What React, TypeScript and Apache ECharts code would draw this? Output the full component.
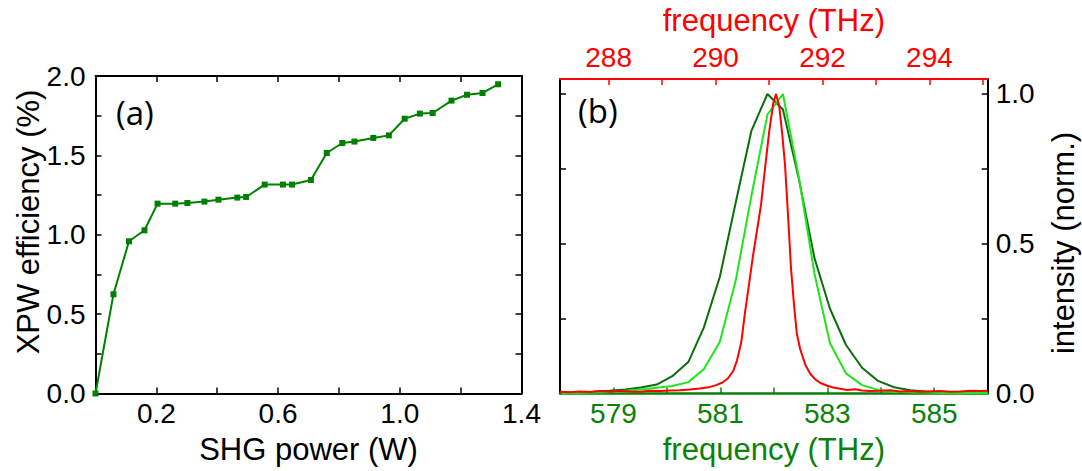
import React, { useEffect, useRef } from "react";
import * as echarts from "echarts";

// ---- Panel (a): XPW efficiency vs SHG power ----
const shgPower = [0, 0.059, 0.110, 0.161, 0.204, 0.262, 0.302, 0.358, 0.404, 0.466, 0.495, 0.556, 0.616, 0.646, 0.708, 0.760, 0.811, 0.851, 0.913, 0.964, 1.016, 1.066, 1.108, 1.170, 1.221, 1.272, 1.323];
const xpwEfficiency = [0, 0.625, 0.959, 1.028, 1.196, 1.196, 1.200, 1.209, 1.221, 1.234, 1.238, 1.316, 1.316, 1.316, 1.345, 1.515, 1.578, 1.587, 1.610, 1.626, 1.731, 1.763, 1.767, 1.845, 1.882, 1.893, 1.948];
const shgTicks = [0.2, 0.4, 0.6, 0.8, 1.0, 1.2];
const shgLabels = [0.2, 0.6, 1.0, 1.4];
const effTicks = [0.25, 0.5, 0.75, 1.0, 1.25, 1.5, 1.75];
const effLabels = [0, 0.5, 1.0, 1.5, 2.0];

// ---- Panel (b): spectra ----
const shgFreq = [578.03, 578.32, 578.62, 578.92, 579.22, 579.51, 579.81, 580.10, 580.40, 580.69, 580.99, 581.29, 581.58, 581.88, 582.17, 582.47, 582.76, 583.05, 583.35, 583.65, 583.95, 584.25, 584.55, 584.85, 585.15, 585.45, 585.75, 586.0];
const darkGreenIntensity = [0.003, 0.004, 0.006, 0.009, 0.013, 0.020, 0.030, 0.058, 0.105, 0.220, 0.390, 0.640, 0.877, 1.0, 0.948, 0.714, 0.452, 0.283, 0.162, 0.086, 0.042, 0.021, 0.011, 0.007, 0.005, 0.004, 0.003, 0.003];
const lightGreenIntensity = [0.002, 0.002, 0.003, 0.004, 0.009, 0.013, 0.019, 0.025, 0.038, 0.081, 0.173, 0.380, 0.660, 0.931, 1.0, 0.720, 0.400, 0.168, 0.067, 0.028, 0.012, 0.006, 0.004, 0.003, 0.002, 0.002, 0.002, 0.002];
const fundFreq = [287.09, 287.28, 287.46, 287.65, 287.84, 288.03, 288.21, 288.40, 288.59, 288.77, 288.96, 289.15, 289.34, 289.52, 289.71, 289.90, 290.01, 290.12, 290.23, 290.33, 290.40, 290.48, 290.55, 290.63, 290.70, 290.78, 290.85, 290.93, 291.00, 291.08, 291.13, 291.19, 291.25, 291.30, 291.36, 291.41, 291.47, 291.52, 291.58, 291.68, 291.77, 291.86, 291.96, 292.09, 292.20, 292.33, 292.46, 292.61, 292.74, 292.89, 293.08, 293.27, 293.45, 293.64, 293.83, 294.01, 294.20, 294.39, 294.58, 294.76, 294.95, 295.09];
const redIntensity = [0.006, 0.004, 0.007, 0.005, 0.008, 0.006, 0.009, 0.007, 0.006, 0.009, 0.008, 0.010, 0.011, 0.013, 0.017, 0.022, 0.028, 0.036, 0.050, 0.075, 0.110, 0.170, 0.270, 0.370, 0.460, 0.550, 0.630, 0.760, 0.870, 0.970, 1.0, 0.960, 0.860, 0.760, 0.580, 0.420, 0.290, 0.200, 0.150, 0.095, 0.066, 0.048, 0.035, 0.026, 0.020, 0.016, 0.012, 0.014, 0.010, 0.008, 0.009, 0.011, 0.007, 0.008, 0.006, 0.007, 0.008, 0.006, 0.007, 0.009, 0.008, 0.009];
const shgAxisTicks = [579, 580, 581, 582, 583, 584, 585];
const shgAxisLabels = [579, 581, 583, 585];
const fundAxisTicks = [288, 289, 290, 291, 292, 293, 294, 295];
const fundAxisLabels = [288, 290, 292, 294];
const intTicks = [0.25, 0.5, 0.75, 1.0];
const intLabels = [0, 0.5, 1.0];

const FONT = "'Liberation Sans', Arial, sans-serif";
const LABEL_SIZE = 28;
const NAME_SIZE = 31;
const GREEN = "#0a820a";
const RED = "#ff0000";

function axis(o: any) {
  const color = o.color || "#000";
  return {
    gridIndex: o.grid,
    type: "value",
    position: o.position,
    min: o.min,
    max: o.max,
    name: o.name,
    nameLocation: "middle",
    nameGap: o.nameGap,
    nameTextStyle: { fontSize: NAME_SIZE, fontFamily: FONT, color },
    axisLine: { show: true, onZero: false, lineStyle: { color, width: o.lineWidth || 2 } },
    axisTick: { show: true, inside: true, length: 6, customValues: o.ticks, lineStyle: { color, width: 1.5 } },
    axisLabel: o.labels
      ? {
          show: true,
          customValues: o.labels,
          formatter: o.fmt,
          fontSize: LABEL_SIZE,
          fontFamily: FONT,
          color,
          margin: o.margin ?? 10,
        }
      : { show: false },
    splitLine: { show: false },
  };
}

export default function App() {
  const ref = useRef<HTMLDivElement>(null);
  useEffect(() => {
    document.body.style.margin = "0";
    const chart = echarts.init(ref.current!, null, { renderer: "svg" });
    const fmt1 = (v: number) => Number(v).toFixed(1);
    const fmt0 = (v: number) => String(Math.round(v));
    const nameStyle = { fontSize: NAME_SIZE, fontFamily: FONT, fill: "#000", align: "center", verticalAlign: "middle" };
    chart.setOption({
      animation: false,
      backgroundColor: "#ffffff",
      grid: [
        { left: 95.5, top: 76, width: 426, height: 317.5 },
        { left: 560, top: 76, width: 427.7, height: 317.5 },
      ],
      xAxis: [
        axis({ grid: 0, position: "bottom", min: 0, max: 1.4, ticks: shgTicks, labels: shgLabels, fmt: fmt1, name: "SHG power (W)", nameGap: 40, margin: 6 }),
        axis({ grid: 0, position: "top", min: 0, max: 1.4, ticks: shgTicks }),
        axis({ grid: 1, position: "bottom", min: 578, max: 586, ticks: shgAxisTicks, labels: shgAxisLabels, fmt: fmt0, name: "frequency (THz)", nameGap: 40, color: GREEN, lineWidth: 2.5, margin: 6 }),
        axis({ grid: 1, position: "top", min: 287.09, max: 295.09, ticks: fundAxisTicks, labels: fundAxisLabels, fmt: fmt0, name: "frequency (THz)", nameGap: 43, color: RED, margin: 8 }),
      ],
      yAxis: [
        axis({ grid: 0, position: "left", min: 0, max: 2, ticks: effTicks, labels: effLabels, fmt: fmt1 }),
        axis({ grid: 0, position: "right", min: 0, max: 2, ticks: effTicks }),
        axis({ grid: 1, position: "left", min: 0, max: 1.05, ticks: intTicks }),
        axis({ grid: 1, position: "right", min: 0, max: 1.05, ticks: intTicks, labels: intLabels, fmt: fmt1, margin: 8 }),
      ],
      graphic: [
        { type: "text", x: 116, y: 112, style: { text: "(a)", fontSize: 33, fontFamily: "'Open Sans', sans-serif", fill: "#000", verticalAlign: "middle" } },
        { type: "text", x: 578, y: 110, style: { text: "(b)", fontSize: 33, fontFamily: "'Open Sans', sans-serif", fill: "#000", verticalAlign: "middle" } },
        { type: "text", x: 28, y: 222, rotation: Math.PI / 2, style: { ...nameStyle, text: "XPW efficiency (%)" } },
        { type: "text", x: 1063, y: 243, rotation: Math.PI / 2, style: { ...nameStyle, text: "intensity (norm.)" } },
      ],
      series: [
        {
          type: "line",
          xAxisIndex: 0,
          yAxisIndex: 0,
          data: shgPower.map((x, i) => [x, xpwEfficiency[i]]),
          symbol: "rect",
          symbolSize: 6,
          lineStyle: { color: "#008000", width: 2 },
          itemStyle: { color: "#008000" },
        },
        {
          type: "line",
          xAxisIndex: 2,
          yAxisIndex: 2,
          data: shgFreq.map((x, i) => [x, darkGreenIntensity[i]]),
          symbol: "none",
          lineStyle: { color: "#0b6e0b", width: 2 },
        },
        {
          type: "line",
          xAxisIndex: 2,
          yAxisIndex: 2,
          data: shgFreq.map((x, i) => [x, lightGreenIntensity[i]]),
          symbol: "none",
          lineStyle: { color: "#1ee61e", width: 2 },
        },
        {
          type: "line",
          xAxisIndex: 3,
          yAxisIndex: 2,
          data: fundFreq.map((x, i) => [x, redIntensity[i]]),
          symbol: "none",
          lineStyle: { color: RED, width: 2 },
        },
      ],
    });
    return () => chart.dispose();
  }, []);
  return <div ref={ref} style={{ width: 1082, height: 471 }} />;
}
